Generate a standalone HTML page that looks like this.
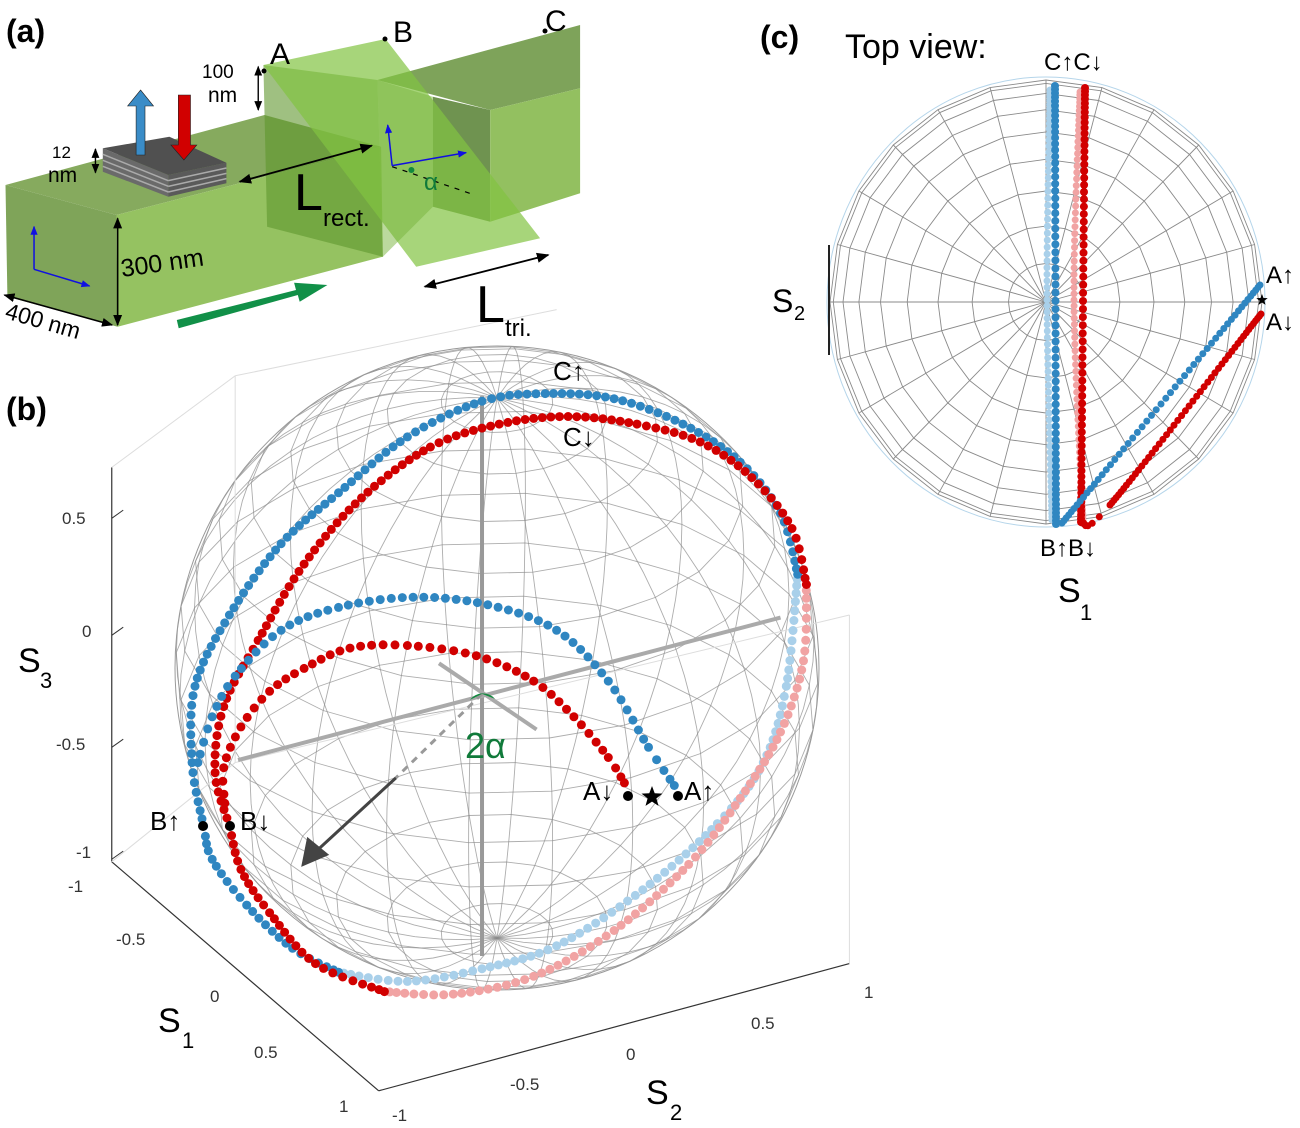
<!DOCTYPE html>
<html><head><meta charset="utf-8"><style>
html,body{margin:0;padding:0;background:#fff;}
svg{display:block;font-family:"Liberation Sans",sans-serif;}
</style></head><body>
<svg id="s" width="1300" height="1128" viewBox="0 0 1300 1128" xmlns="http://www.w3.org/2000/svg">
<defs>
<marker id="ah" viewBox="0 0 10 10" refX="9" refY="5" markerWidth="7" markerHeight="7" orient="auto-start-reverse"><path d="M0,1 L10,5 L0,9 z" fill="#000"/></marker>
<marker id="bh" viewBox="0 0 10 10" refX="9" refY="5" markerWidth="6" markerHeight="6" orient="auto-start-reverse"><path d="M0,1 L10,5 L0,9 z" fill="#1010e0"/></marker>
</defs>
<g id="grid"></g>
<g id="pa"></g>
<g id="dots"></g>
<g id="txt" fill="#000">
<text x="6" y="42" font-size="32" font-weight="bold">(a)</text>
<text x="6" y="420" font-size="32" font-weight="bold">(b)</text>
<text x="760" y="48" font-size="32" font-weight="bold">(c)</text>
<text x="845" y="58" font-size="34">Top view:</text>
<text x="270" y="64" font-size="30">A</text>
<text x="393" y="42" font-size="30">B</text>
<text x="545" y="31" font-size="30">C</text>
<text x="202" y="78" font-size="19">100</text>
<text x="208" y="102" font-size="21">nm</text>
<text x="52" y="158" font-size="17">12</text>
<text x="48" y="182" font-size="21">nm</text>
<text x="122" y="277" font-size="25" transform="rotate(-8 122 277)">300 nm</text>
<text x="4" y="318" font-size="23" transform="rotate(16 4 318)">400 nm</text>
<text x="294" y="210" font-size="52">L</text><text x="323" y="226" font-size="24">rect.</text>
<text x="476" y="322" font-size="52">L</text><text x="505" y="336" font-size="24">tri.</text>
<text x="424" y="190" font-size="24" fill="#107a3a">α</text>
<text x="465" y="758" font-size="36" fill="#107a3a">2α</text>
<text x="18" y="672" font-size="34">S</text><text x="40" y="688" font-size="22">3</text>
<text x="158" y="1032" font-size="34">S</text><text x="182" y="1048" font-size="22">1</text>
<text x="646" y="1104" font-size="34">S</text><text x="670" y="1120" font-size="22">2</text>
<text x="772" y="312" font-size="32">S</text><text x="794" y="320" font-size="20">2</text>
<text x="1058" y="602" font-size="34">S</text><text x="1080" y="620" font-size="22">1</text>
<text x="553" y="380" font-size="26">C↑</text>
<text x="563" y="446" font-size="26">C↓</text>
<text x="150" y="830" font-size="26">B↑</text>
<text x="240" y="830" font-size="26">B↓</text>
<text x="583" y="800" font-size="26">A↓</text>
<text x="684" y="800" font-size="26">A↑</text>
<text x="1044" y="70" font-size="24">C↑C↓</text>
<text x="1040" y="556" font-size="24">B↑B↓</text>
<text x="1266" y="283" font-size="24">A↑</text>
<text x="1266" y="330" font-size="24">A↓</text>
<g font-size="17" fill="#333">
<text x="62" y="524">0.5</text><text x="82" y="637">0</text><text x="56" y="750">-0.5</text><text x="76" y="858">-1</text>
<text x="68" y="892">-1</text><text x="116" y="945">-0.5</text><text x="210" y="1002">0</text><text x="254" y="1058">0.5</text><text x="339" y="1112">1</text>
<text x="392" y="1121">-1</text><text x="510" y="1090">-0.5</text><text x="626" y="1060">0</text><text x="751" y="1029">0.5</text><text x="864" y="998">1</text>
</g>
</g>
</svg>
<script>
var NS="http://www.w3.org/2000/svg";
function el(p,t,a){var e=document.createElementNS(NS,t);for(var k in a)e.setAttribute(k,a[k]);document.getElementById(p).appendChild(e);return e;}
var cx=497,cy=668,R=322,e=33*Math.PI/180,az=0.35;
function pr(X,Y,Z){var u=X*Math.cos(az)-Y*Math.sin(az),v=X*Math.sin(az)+Y*Math.cos(az);return [cx+R*u,cy-R*(Z*Math.cos(e)-v*Math.sin(e))];}
var pts;
for(var m=0;m<24;m++){var ph=m*Math.PI/12;pts=[];for(var t=-90;t<=90;t+=5){var la=t*Math.PI/180;var p=pr(Math.cos(la)*Math.cos(ph),Math.cos(la)*Math.sin(ph),Math.sin(la));pts.push(p[0].toFixed(1)+","+p[1].toFixed(1));}
el("grid","polyline",{points:pts.join(" "),fill:"none",stroke:"#8a8a8a","stroke-width":"0.9","stroke-opacity":"0.7"});}
for(var l=-80;l<=80;l+=10){var la=l*Math.PI/180;pts=[];for(var m=0;m<=24;m++){var ph=m*Math.PI/12;var p=pr(Math.cos(la)*Math.cos(ph),Math.cos(la)*Math.sin(ph),Math.sin(la));pts.push(p[0].toFixed(1)+","+p[1].toFixed(1));}
el("grid","polyline",{points:pts.join(" "),fill:"none",stroke:"#8a8a8a","stroke-width":"0.9","stroke-opacity":"0.7"});}
el("grid","circle",{cx:cx,cy:cy,r:R,fill:"none",stroke:"#999","stroke-width":"1"});
function zb(x,y){return [40+x/1.742,330+y/1.965];}
function L(g,a,b,st,w){var p=zb(a[0],a[1]),q=zb(b[0],b[1]);el(g,"line",{x1:p[0],y1:p[1],x2:q[0],y2:q[1],stroke:st,"stroke-width":w});}
L("grid",[125,270],[125,1045],"#333",1.2);L("grid",[125,1045],[590,1495],"#333",1.2);L("grid",[590,1495],[1410,1245],"#333",1.2);
L("grid",[125,270],[340,90],"#ddd",1);L("grid",[340,90],[340,850],"#ddd",1);L("grid",[125,1045],[340,850],"#ddd",1);L("grid",[340,850],[1410,560],"#ddd",1);L("grid",[1410,1245],[1410,560],"#ddd",1);L("grid",[340,90],[900,-40],"#ddd",1);
[[370],[600],[820],[1040]].forEach(function(v){L("grid",[125,v[0]],[145,v[0]-16],"#333",1);});
L("grid",[770,130],[770,1230],"#999",4);
L("grid",[345,845],[1290,565],"#aaa",4);
L("grid",[695,655],[865,785],"#aaa",4);
var a=zb(770,715),b=zb(620,880),c=zb(455,1055);
el("grid","line",{x1:a[0],y1:a[1],x2:b[0],y2:b[1],stroke:"#999","stroke-width":3,"stroke-dasharray":"7,6"});
el("grid","line",{x1:b[0],y1:b[1],x2:c[0]+10,y2:c[1]-11,stroke:"#444","stroke-width":3});
el("grid","polygon",{points:(c[0])+","+(c[1])+" "+(c[0]+6)+","+(c[1]-30)+" "+(c[0]+28)+","+(c[1]-12),fill:"#444"});
el("grid","path",{d:"M"+(a[0]-12)+","+(a[1]+6)+" A16,16 0 0 1 "+(a[0]+13)+","+(a[1]+5)+" L"+a[0]+","+a[1]+"z",fill:"#118a3e"});
function cr(P,n){var out=[];for(var i=0;i<P.length-1;i++){var p0=P[Math.max(i-1,0)],p1=P[i],p2=P[i+1],p3=P[Math.min(i+2,P.length-1)];var d=Math.hypot(p2[0]-p1[0],p2[1]-p1[1]);var k=Math.max(1,Math.round(d/n));for(var j=0;j<k;j++){var t=j/k,t2=t*t,t3=t2*t;out.push([0.5*(2*p1[0]+(-p0[0]+p2[0])*t+(2*p0[0]-5*p1[0]+4*p2[0]-p3[0])*t2+(-p0[0]+3*p1[0]-3*p2[0]+p3[0])*t3),0.5*(2*p1[1]+(-p0[1]+p2[1])*t+(2*p0[1]-5*p1[1]+4*p2[1]-p3[1])*t2+(-p0[1]+3*p1[1]-3*p2[1]+p3[1])*t3)]);}}out.push(P[P.length-1]);return out;}
function dotsZ(P,col,rad,sp){var Q=P.map(function(p){return zb(p[0],p[1]);});cr(Q,sp).forEach(function(p){el("dots","circle",{cx:p[0].toFixed(1),cy:p[1].toFixed(1),r:rad,fill:col});});}
function dotsO(P,col,rad,sp){cr(P,sp).forEach(function(p){el("dots","circle",{cx:p[0].toFixed(1),cy:p[1].toFixed(1),r:rad,fill:col});});}
var B="#2f86c1",Rd="#d10000",LB="#a9d0ea",LR="#f1a3a3";
dotsZ([[1320,480],[1300,700],[1260,850],[1180,970],[1050,1100],[900,1210],[770,1255],[640,1280],[520,1262]],LB,4.5,9);
dotsZ([[1335,500],[1330,650],[1290,790],[1220,920],[1130,1050],[1000,1180],[860,1270],[720,1305],[600,1300]],LR,4.5,9);
dotsZ([[520,1262],[440,1215],[360,1130],[300,1040],[285,975],[265,850],[270,700],[330,560],[420,420],[520,320],[640,210],[770,140],[880,125],[1000,135],[1120,185],[1220,260],[1290,360],[1320,480]],B,4.5,9);
dotsZ([[600,1300],[480,1245],[400,1145],[350,1060],[330,975],[305,870],[320,740],[380,610],[460,460],[560,330],[680,230],[800,185],[920,170],[1040,185],[1150,220],[1240,290],[1310,390],[1335,500]],Rd,4.5,9);
dotsZ([[1105,895],[1060,820],[990,690],[900,590],[780,540],[650,525],[520,545],[420,590],[340,680],[300,760],[275,850]],B,4.5,11);
dotsZ([[1018,890],[990,840],[930,760],[860,690],[760,640],[640,620],[540,625],[460,665],[400,710],[350,780],[320,860],[322,930]],Rd,4.5,11);
[[203,826],[230,826],[628,796],[678,796]].forEach(function(p){el("dots","circle",{cx:p[0],cy:p[1],r:5,fill:"#000"});});
function star(g,x,y,r){var s=[];for(var i=0;i<10;i++){var rr=i%2?r*0.42:r,an=-Math.PI/2+i*Math.PI/5;s.push((x+rr*Math.cos(an)).toFixed(1)+","+(y+rr*Math.sin(an)).toFixed(1));}el(g,"polygon",{points:s.join(" "),fill:"#000"});}
star("dots",652,797,11);
var ccx=1046,ccy=302,rx=216,ry=222;
for(var k=1;k<=9;k++){var rr=Math.sin(k*10*Math.PI/180);pts=[];for(var m=0;m<=24;m++){var an=m*Math.PI/12;pts.push((ccx+rx*rr*Math.cos(an)).toFixed(1)+","+(ccy+ry*rr*Math.sin(an)).toFixed(1));}el("grid","polyline",{points:pts.join(" "),fill:"none",stroke:"#8a8a8a","stroke-width":"0.9"});}
for(var m=0;m<24;m++){var an=m*Math.PI/12;el("grid","line",{x1:ccx,y1:ccy,x2:(ccx+rx*Math.cos(an)).toFixed(1),y2:(ccy+ry*Math.sin(an)).toFixed(1),stroke:"#8a8a8a","stroke-width":"0.9"});}
el("grid","ellipse",{cx:ccx,cy:ccy,rx:rx+3,ry:ry+3,fill:"none",stroke:"#b5d5ea","stroke-width":"1"});
el("grid","line",{x1:829,y1:245,x2:829,y2:355,stroke:"#222","stroke-width":2});
dotsO([[1050,90],[1047,300],[1052,520]],LB,3.5,6);
dotsO([[1080,92],[1074,300],[1083,520]],LR,3.5,6);
dotsO([[1055,86],[1056,524]],B,4,6.5);
dotsO([[1085,88],[1081,522]],Rd,4,6.5);
dotsO([[1260,285],[1062,523]],B,3.5,6);
dotsO([[1261,314],[1110,505],[1082,523]],Rd,3.5,5);
star("dots",1262,300,6);
function za(x,y){return (x/2.703).toFixed(1)+","+(y/3).toFixed(1);}
function P(arr,fill,extra){var a={points:arr.map(function(p){return za(p[0],p[1]);}).join(" "),fill:fill};for(var k in extra)a[k]=extra[k];el("pa","polygon",a);}
function LA(a,b,st,w,mk,ex){var o={x1:a[0]/2.703,y1:a[1]/3,x2:b[0]/2.703,y2:b[1]/3,stroke:st,"stroke-width":w};if(mk){o["marker-end"]=mk;if(ex)o["marker-start"]=mk;}el("pa","line",o);}
P([[1020,240],[1568,75],[1568,265],[1325,330]],"#7ea35a");
P([[1170,290],[1325,330],[1325,665],[1170,620]],"#6f9350");
P([[1325,330],[1568,265],[1568,580],[1325,665]],"#93c060");
P([[15,555],[715,345],[1030,440],[315,645]],"#86aa5e");
P([[315,645],[1030,440],[1035,770],[318,980]],"#95c261");
P([[15,555],[315,645],[318,980],[20,890]],"#7fa459");
P([[712,195],[1020,240],[1035,770],[722,680]],"rgba(95,150,45,0.6)");
P([[712,195],[1042,117],[1460,715],[1125,800]],"rgba(130,195,65,0.7)");
P([[1020,240],[1170,290],[1170,620],[1035,770]],"rgba(120,180,60,0.5)");
P([[278,445],[455,525],[455,590],[278,515]],"#6a6a6a");
P([[455,525],[612,488],[612,550],[455,590]],"#5a5a5a");
for(var i=1;i<4;i++){LA([278,445+i*18],[455,525+i*17],"#aaa",1.5);LA([455,525+i*17],[612,488+i*16],"#aaa",1.5);}
P([[278,445],[458,410],[612,488],[455,525]],"#505050");
P([[368,465],[368,318],[345,318],[380,270],[415,318],[392,318],[392,465]],"#3a8cc7",{stroke:"#222","stroke-width":"0.6"});
P([[482,285],[482,435],[462,435],[497,480],[532,435],[515,435],[515,285]],"#d10000",{stroke:"#222","stroke-width":"0.6"});
LA([648,545],[1005,437],"#000",1.8,"url(#ah)",1);
LA([1148,860],[1482,765],"#000",1.8,"url(#ah)",1);
LA([318,655],[318,975],"#000",1.6,"url(#ah)",1);
LA([12,885],[303,975],"#000",1.6,"url(#ah)",1);
LA([698,200],[698,330],"#000",1.4,"url(#ah)",1);
LA([258,447],[258,518],"#000",1.4,"url(#ah)",1);
LA([92,808],[92,680],"#1010e0",1.5,"url(#bh)");LA([92,808],[242,858],"#1010e0",1.5,"url(#bh)");
LA([1060,497],[1048,375],"#1010e0",1.5,"url(#bh)");LA([1060,497],[1260,458],"#1010e0",1.5,"url(#bh)");
el("pa","line",{x1:1060/2.703,y1:500/3,x2:1270/2.703,y2:580/3,stroke:"#000","stroke-width":1.2,"stroke-dasharray":"5,6"});
el("pa","circle",{cx:1112/2.703,cy:510/3,r:3,fill:"#118a3e"});
P([[478,960],[800,870],[795,848],[885,855],[810,905],[805,885],[483,985]],"#119048");
[[264,71],[385,39],[545,31]].forEach(function(p){el("pa","circle",{cx:p[0],cy:p[1],r:2.5,fill:"#000"});});
</script>
</body></html>
